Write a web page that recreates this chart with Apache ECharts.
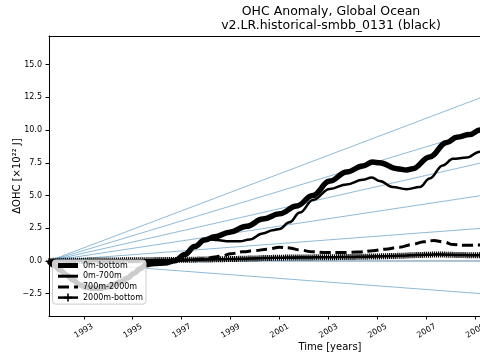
<!DOCTYPE html>
<html>
<head>
<meta charset="utf-8">
<script src="https://cdn.jsdelivr.net/npm/echarts@6/dist/echarts.min.js"></script>
<style>html,body{margin:0;padding:0;background:#fff}#chart{width:480px;height:360px}</style>
</head>
<body>
<div id="chart"></div>
<script>
// ---- data ----
const xTicks = [1993, 1995, 1997, 1999, 2001, 2003, 2005, 2007, 2009, 2011, 2013];
const yTicks = [-2.5, 0, 2.5, 5, 7.5, 10, 12.5, 15];
const seriesNames = ['0m-bottom', '0m-700m', '700m-2000m', '2000m-bottom'];

// 0m-bottom
const totalYears = [1991.58, 1991.82, 1992.03, 1992.3, 1992.56, 1992.85, 1993.1, 1993.38, 1993.66, 1993.95, 1994.19, 1994.5, 1994.77, 1995.05, 1995.3, 1995.54, 1995.9, 1996.31, 1996.72, 1997.13, 1997.53, 1997.94, 1998.35, 1998.96, 1999.66, 2000.31, 2001.0, 2001.7, 2002.35, 2003.05, 2003.74, 2004.4, 2004.8, 2005.09, 2005.79, 2006.19, 2006.44, 2007.13, 2007.83, 2008.24, 2008.77, 2009.18, 2009.4];
const totalValues = [0, -0.35, -0.7, -1.07, -1.45, -1.83, -2.0, -2.09, -2.09, -1.98, -1.83, -1.6, -1.32, -0.95, -0.6, -0.28, -0.2, -0.16, 0.02, 0.5, 1.1, 1.6, 1.85, 2.2, 2.65, 3.2, 3.6, 4.2, 5.0, 6.1, 6.8, 7.25, 7.55, 7.5, 7.05, 6.95, 7.05, 7.95, 9.05, 9.45, 9.65, 10.0, 10.1];

// 0m-700m
const upperYears = [1991.58, 1991.82, 1992.03, 1992.3, 1992.56, 1992.85, 1993.1, 1993.38, 1993.66, 1993.95, 1994.19, 1994.5, 1994.77, 1995.05, 1995.3, 1995.54, 1995.9, 1996.31, 1996.72, 1997.13, 1997.53, 1997.94, 1998.2, 1998.42, 1998.96, 1999.38, 1999.78, 2000.31, 2000.72, 2001.0, 2001.4, 2001.83, 2002.36, 2003.05, 2003.74, 2004.4, 2004.77, 2005.09, 2005.62, 2006.19, 2006.73, 2007.13, 2007.67, 2008.08, 2008.65, 2009.18, 2009.4];
const upperValues = [0, -0.35, -0.7, -1.07, -1.45, -1.83, -2.0, -2.09, -2.09, -1.98, -1.83, -1.6, -1.32, -0.95, -0.6, -0.28, -0.2, -0.17, 0.0, 0.45, 1.05, 1.55, 1.65, 1.6, 1.5, 1.5, 1.65, 2.1, 2.35, 2.45, 2.95, 3.7, 4.65, 5.5, 5.85, 6.2, 6.38, 6.1, 5.65, 5.48, 5.65, 6.3, 7.3, 7.8, 7.9, 8.35, 8.5];

// 700m-2000m
const midYears = [1991.58, 1992.5, 1993.5, 1994.5, 1995.5, 1996.5, 1997.13, 1997.6, 1997.94, 1998.35, 1998.7, 1999.0, 1999.5, 2000.0, 2000.5, 2001.0, 2001.4, 2001.8, 2002.35, 2002.9, 2003.5, 2004.2, 2004.8, 2005.3, 2005.9, 2006.4, 2006.9, 2007.3, 2007.7, 2008.1, 2008.6, 2009.2, 2009.4];
const midValues = [0, -0.05, -0.08, -0.05, 0.0, 0.02, 0.05, 0.1, 0.15, 0.3, 0.42, 0.55, 0.7, 0.8, 0.9, 1.05, 1.0, 0.85, 0.7, 0.65, 0.65, 0.68, 0.78, 0.9, 1.05, 1.25, 1.47, 1.56, 1.45, 1.25, 1.2, 1.22, 1.22];

// 2000m-bottom, monthly from Aug 1991
const deepStartYear = 1991.58;
const deepValues = [
  0.00,0.00,0.01,0.01,0.01,
  0.01,0.01,0.01,0.02,0.02,0.02,0.02,0.02,0.02,0.02,0.02,0.02,
  0.02,0.02,0.03,0.03,0.03,0.03,0.03,0.03,0.03,0.03,0.03,0.04,
  0.04,0.04,0.04,0.04,0.04,0.04,0.04,0.05,0.05,0.05,0.05,0.05,
  0.05,0.05,0.05,0.05,0.06,0.06,0.06,0.06,0.06,0.06,0.06,0.07,
  0.07,0.07,0.07,0.07,0.07,0.08,0.08,0.08,0.08,0.08,0.09,0.09,
  0.09,0.09,0.09,0.10,0.10,0.10,0.10,0.10,0.11,0.11,0.11,0.11,
  0.12,0.12,0.12,0.12,0.13,0.13,0.13,0.14,0.14,0.14,0.15,0.15,
  0.15,0.16,0.16,0.16,0.17,0.17,0.18,0.18,0.18,0.19,0.19,0.20,
  0.20,0.20,0.21,0.21,0.22,0.22,0.22,0.23,0.23,0.24,0.24,0.24,
  0.25,0.25,0.25,0.26,0.26,0.26,0.26,0.26,0.26,0.27,0.27,0.27,
  0.27,0.27,0.27,0.27,0.27,0.28,0.28,0.28,0.28,0.28,0.28,0.28,
  0.29,0.29,0.29,0.29,0.29,0.30,0.30,0.30,0.30,0.30,0.31,0.31,
  0.31,0.31,0.32,0.32,0.32,0.33,0.33,0.33,0.34,0.34,0.34,0.35,
  0.35,0.35,0.36,0.36,0.37,0.37,0.38,0.38,0.39,0.39,0.40,0.40,
  0.41,0.41,0.42,0.42,0.43,0.44,0.44,0.45,0.45,0.46,0.46,0.47,
  0.47,0.48,0.48,0.49,0.49,0.50,0.50,0.50,0.49,0.49,0.48,0.48,
  0.47,0.47,0.46,0.46,0.46,0.45,0.45,0.45,0.44,0.44,0.44,0.44,
  0.44,0.44,0.44,0.44
];

// reference rate lines: start at (refStartYear, 0), end at (refEndYear, value)
const refStartYear = 1991.58;
const refEndYear = 2009.5;
const refEndValues = [12.67, 10.14, 7.60, 5.07, 2.53, -2.53];
const zeroLineValues = [0, 0];

// ---- build ----
const pair = (xs, ys) => xs.map((x, i) => [x, ys[i]]);
const deepData = deepValues.map((v, i) => [deepStartYear + i / 12, v]);

const FONT = 'DejaVu Sans';
const series = [];
refEndValues.forEach((v, i) => {
  series.push({
    type: 'line', name: 'ref' + i, silent: true, symbol: 'none', z: 1,
    data: [[refStartYear, 0], [refEndYear, v]],
    lineStyle: { color: '#1f77b4', opacity: 0.5, width: 1 }
  });
});
series.push({
  type: 'line', name: 'zero', silent: true, symbol: 'none', z: 1,
  data: [[refStartYear, zeroLineValues[0]], [refEndYear, zeroLineValues[1]]],
  lineStyle: { color: '#2f6a9a', opacity: 0.8, width: 1 }
});
series.push({
  type: 'line', name: seriesNames[0], symbol: 'none', z: 2,
  smooth: 0.4, smoothMonotone: 'x',
  data: pair(totalYears, totalValues),
  itemStyle: { color: '#000', opacity: 0 },
  lineStyle: { color: '#000', width: 5.5 }
});
series.push({
  type: 'line', name: seriesNames[1], symbol: 'none', z: 2,
  smooth: 0.4, smoothMonotone: 'x',
  data: pair(upperYears, upperValues),
  itemStyle: { color: '#000', opacity: 0 },
  lineStyle: { color: '#000', width: 2.5 }
});
series.push({
  type: 'line', name: seriesNames[2], symbol: 'none', z: 2,
  smooth: 0.4, smoothMonotone: 'x',
  data: pair(midYears, midValues),
  itemStyle: { color: '#000', opacity: 0 },
  lineStyle: { color: '#000', width: 3, type: [11, 5] }
});
series.push({
  type: 'line', name: seriesNames[3], z: 2,
  symbol: 'path://M0,4H10V6H0ZM4,0H6V10H4Z', symbolSize: 6, showSymbol: true, showAllSymbol: true,
  data: deepData,
  itemStyle: { color: '#000' },
  lineStyle: { color: '#000', width: 2.5 }
});

const legendWidths = [5, 3, 3, 2.5];
const legendDashes = ['solid', 'solid', [11, 5], 'solid'];

const chart = echarts.init(document.getElementById('chart'), null, { renderer: 'canvas' });
chart.setOption({
  animation: false,
  backgroundColor: '#fff',
  textStyle: { fontFamily: FONT, color: '#000' },
  title: {
    text: 'OHC Anomaly, Global Ocean\nv2.LR.historical-smbb_0131 (black)',
    left: 331, top: 5, padding: 0, textAlign: 'center',
    textStyle: { fontFamily: FONT, fontSize: 12.5, fontWeight: 'normal', color: '#000', lineHeight: 14 }
  },
  legend: {
    data: seriesNames.map((n, i) => ({ name: n, lineStyle: { width: legendWidths[i], type: legendDashes[i], color: '#000' } })),
    orient: 'vertical', left: 52.5, top: 260, z: 20,
    padding: [1.5, 3, 2.5, 3], itemWidth: 20, itemHeight: 10, itemGap: 2.7,
    backgroundColor: 'rgba(255,255,255,0.8)', borderColor: '#cccccc', borderWidth: 1, borderRadius: 3,
    selectedMode: false,
    textStyle: { fontFamily: FONT, fontSize: 8, color: '#000' }
  },
  grid: { left: 49, top: 36, width: 562, height: 280, outerBoundsMode: 'none', containLabel: false },
  xAxis: [{
    type: 'value', min: 1991.58, max: 2014.54,
    name: 'Time [years]', nameLocation: 'middle', nameGap: 26, nameMoveOverlap: false,
    nameTextStyle: { fontFamily: FONT, fontSize: 10, color: '#000' },
    axisLine: { show: true, onZero: false, lineStyle: { color: '#000', width: 1 } },
    axisTick: { show: true, length: 3.5, customValues: xTicks, lineStyle: { color: '#000', width: 1 } },
    axisLabel: { customValues: xTicks, rotate: 30, align: 'center', verticalAlign: 'middle', margin: 15,
      fontFamily: FONT, fontSize: 8, color: '#000', formatter: v => String(v) },
    splitLine: { show: false }
  }, {
    type: 'value', position: 'top', min: 1991.58, max: 2014.54,
    axisLine: { show: true, onZero: false, lineStyle: { color: '#000', width: 1 } },
    axisTick: { show: false }, axisLabel: { show: false }, splitLine: { show: false }
  }],
  yAxis: {
    type: 'value', min: -4.2, max: 17.18,
    name: 'ΔOHC [×10²² J]', nameLocation: 'middle', nameGap: 27, nameMoveOverlap: false,
    nameTextStyle: { fontFamily: FONT, fontSize: 10, color: '#000' },
    axisLine: { show: true, onZero: false, lineStyle: { color: '#000', width: 1 } },
    axisTick: { show: true, length: 3.5, customValues: yTicks, lineStyle: { color: '#000', width: 1 } },
    axisLabel: { customValues: yTicks, margin: 7, fontFamily: FONT, fontSize: 8, color: '#000',
      formatter: v => (v < 0 ? '\u2212' : '') + Math.abs(v).toFixed(1) },
    splitLine: { show: false }
  },
  series: series
});
</script>
</body>
</html>
